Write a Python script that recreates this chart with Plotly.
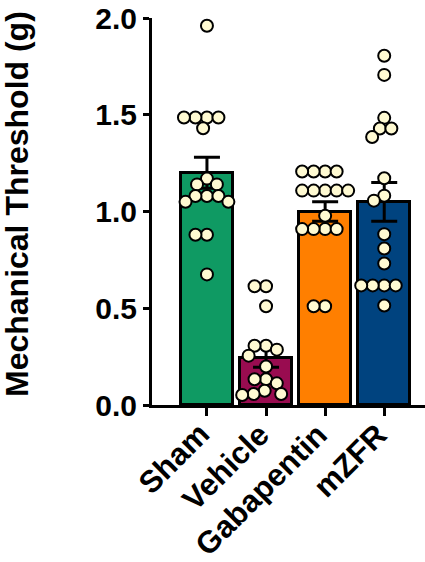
import math
import plotly.graph_objects as go

# ---------------- data ----------------
groups = ["Sham", "Vehicle", "Gabapentin", "mZFR"]
bar_means = [1.20, 0.245, 1.00, 1.05]
bar_sems = [0.08, 0.05, 0.05, 0.10]

sham_pts = [1.96, 1.486, 1.486, 1.486, 1.486, 1.43, 1.17, 1.14, 1.14,
            1.08, 1.08, 1.08, 1.05, 1.05, 0.88, 0.88, 0.675]
vehicle_pts = [0.614, 0.614, 0.51, 0.306, 0.306, 0.286, 0.255, 0.199,
               0.133, 0.133, 0.112, 0.074, 0.057, 0.057, 0.052]
gabapentin_pts = [1.207, 1.207, 1.207, 1.207, 1.108, 1.108, 1.108, 1.108,
                  1.108, 0.978, 0.909, 0.909, 0.909, 0.909, 0.51, 0.51]
mzfr_pts = [1.805, 1.706, 1.484, 1.429, 1.429, 1.385, 1.172, 1.082, 1.056,
            0.883, 0.809, 0.731, 0.618, 0.618, 0.618, 0.618, 0.514]
points = [sham_pts, vehicle_pts, gabapentin_pts, mzfr_pts]

bar_colors = ["#0F9A63", "#990C50", "#FF7F00", "#00437F"]
point_fill = "#FFFAD2"

# ---------------- layout geometry ----------------
W, H = 425, 562
ML, MR, MT, MB = 152, 0, 18, 157
plot_w = W - ML - MR
plot_h = H - MT - MB
x_range = [-0.93, 3.69]
y_range = [0, 2.0]
px_per_cat = plot_w / (x_range[1] - x_range[0])
px_per_unit = plot_h / (y_range[1] - y_range[0])


def beeswarm(vals, dmin=11.5):
    """simple beeswarm: returns x offsets in category units"""
    order = sorted(range(len(vals)), key=lambda i: -vals[i])
    placed = []  # (xpx, ypx)
    offs = [0.0] * len(vals)
    for i in order:
        y = vals[i] * px_per_unit
        intervals = []
        for (px, py) in placed:
            dy = abs(py - y)
            if dy < dmin:
                h = math.sqrt(dmin * dmin - dy * dy)
                intervals.append((px - h, px + h))
        cands = [0.0] + [a for a, b in intervals] + [b for a, b in intervals]
        cands.sort(key=lambda c: (abs(c), c))
        chosen = 0.0
        for c in cands:
            if all(not (a + 1e-6 < c < b - 1e-6) for a, b in intervals):
                chosen = c
                break
        placed.append((chosen, y))
        offs[i] = chosen / px_per_cat
    return offs


fig = go.Figure()

fig.add_trace(go.Bar(
    x=list(range(len(groups))),
    y=bar_means,
    width=0.88,
    marker=dict(color=bar_colors, line=dict(color="black", width=3)),
    error_y=dict(type="data", array=bar_sems, visible=True,
                 color="black", thickness=3, width=13),
    showlegend=False,
    hoverinfo="skip",
))

for gi, vals in enumerate(points):
    offs = beeswarm(vals)
    fig.add_trace(go.Scatter(
        x=[gi + o for o in offs],
        y=vals,
        mode="markers",
        marker=dict(size=12, color=point_fill,
                    line=dict(color="black", width=2)),
        showlegend=False,
        hoverinfo="skip",
    ))

font_family = "Arial, 'Liberation Sans', Helvetica, sans-serif"

# category labels as rotated annotations anchored just below each tick
label_anns = []
for gi, name in enumerate(groups):
    label_anns.append(dict(
        text=name, xref="x", yref="paper",
        x=gi + 12 / px_per_cat, y=-(414 - (MT + plot_h)) / plot_h,
        xanchor="right", yanchor="top",
        textangle=-45, showarrow=False,
        font=dict(size=31, weight=700, family=font_family, color="black"),
    ))

fig.update_layout(
    width=W, height=H,
    margin=dict(l=ML, r=MR, t=MT, b=MB, autoexpand=False),
    paper_bgcolor="white", plot_bgcolor="white",
    font=dict(family=font_family, color="black"),
    bargap=0,
    xaxis=dict(
        range=x_range,
        tickmode="array",
        tickvals=list(range(len(groups))),
        showticklabels=False,
        showline=True, linecolor="black", linewidth=3,
        ticks="outside", ticklen=8, tickwidth=3, tickcolor="black",
        showgrid=False, zeroline=False,
        automargin=False,
    ),
    yaxis=dict(
        range=y_range,
        tickmode="array",
        tickvals=[0, 0.5, 1.0, 1.5, 2.0],
        ticktext=["0.0", "0.5", "1.0", "1.5", "2.0"],
        tickfont=dict(size=30, weight=700, family=font_family),
        showline=True, linecolor="black", linewidth=3,
        ticks="outside", ticklen=6, tickwidth=3, tickcolor="black",
        showgrid=False, zeroline=False,
        automargin=False,
    ),
    annotations=[dict(
        text="Mechanical Threshold (g)",
        xref="paper", yref="paper",
        x=(17 - ML) / plot_w, y=((MT + plot_h) - 204) / plot_h,
        xanchor="center", yanchor="middle",
        textangle=-90, showarrow=False,
        font=dict(size=32, weight=700, family=font_family, color="black"),
    )] + label_anns,
)

fig.write_html("out.html", config={"displayModeBar": False},
               post_script="document.body.style.margin='0px';")
